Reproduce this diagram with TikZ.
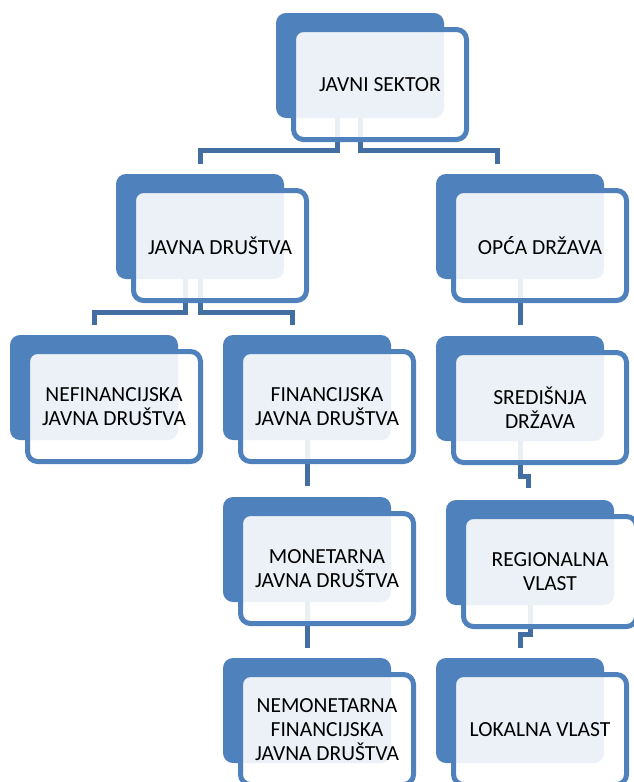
\documentclass[tikz,border=0pt]{standalone}
\usepackage{fontspec}
\setmainfont{Carlito}
\definecolor{acc}{HTML}{4F81BD}
\definecolor{connc}{HTML}{436EA1}
\begin{document}
\begin{tikzpicture}[x=1pt,y=-1pt,
  backbox/.style={draw=none, fill=acc, rounded corners=10pt, minimum width=168pt, minimum height=105pt, inner sep=0pt},
  frontbox/.style={draw=acc, line width=5pt, fill=white, fill opacity=0.89, draw opacity=1, text opacity=1,
    rounded corners=10pt, minimum width=173pt, minimum height=110pt, inner sep=0pt, align=center,
    font=\fontsize{21.5}{24}\selectfont, text=black},
  link/.style={draw=connc, line width=5pt}]
\useasboundingbox (0,0) rectangle (634,782);
% back rectangles
\node[backbox] (jsB)  at (360,65.5) {};
\node[backbox] (jdB)  at (200,226.5) {};
\node[backbox] (opB)  at (520,226.5) {};
\node[backbox] (nefB) at (94,387.5) {};
\node[backbox] (finB) at (307,387.5) {};
\node[backbox] (srB)  at (520,388.5) {};
\node[backbox] (monB) at (307,549.5) {};
\node[backbox] (regB) at (530,552.5) {};
\node[backbox] (nemB) at (307,710.5) {};
\node[backbox] (lokB) at (520,710.5) {};
% connectors
\draw[link] ([xshift=-23pt]jsB.south) -- ++(0,32) -| ([yshift=10pt]jdB.north);
\draw[link] (jsB.south) -- ++(0,32) -| ([xshift=-23pt,yshift=10pt]opB.north);
\draw[link] ([xshift=-15pt]jdB.south) -- ++(0,33) -| ([yshift=10pt]nefB.north);
\draw[link] (jdB.south) -- ++(0,33) -| ([xshift=-15pt,yshift=10pt]finB.north);
\draw[link] (opB.south) -- ([yshift=11pt]srB.north);
\draw[link] (srB.south) -- ++(0,35) -| ([xshift=-2pt,yshift=12pt]regB.north);
\draw[link] (regB.south) -- ++(0,29) -| ([yshift=10pt]lokB.north);
\draw[link] (finB.south) -- ([yshift=11pt]monB.north);
\draw[link] (monB.south) -- ([yshift=10pt]nemB.north);
% front rectangles with text
\node[frontbox] (js)  at (380,84.5)  {JAVNI SEKTOR};
\node[frontbox] (jd)  at (220,245.5) {JAVNA DRUŠTVA};
\node[frontbox] (op)  at (540,245.5) {OPĆA DRŽAVA};
\node[frontbox] (nef) at (114,406.5) {NEFINANCIJSKA\\JAVNA DRUŠTVA};
\node[frontbox] (fin) at (327,406.5) {FINANCIJSKA\\JAVNA DRUŠTVA};
\node[frontbox] (sr)  at (540,407.5) {SREDIŠNJA\\DRŽAVA};
\node[frontbox] (mon) at (327,568.5) {MONETARNA\\JAVNA DRUŠTVA};
\node[frontbox] (reg) at (550,571.5) {REGIONALNA\\VLAST};
\node[frontbox] (nem) at (327,729.5) {NEMONETARNA\\FINANCIJSKA\\JAVNA DRUŠTVA};
\node[frontbox] (lok) at (540,729.5) {LOKALNA VLAST};
\end{tikzpicture}
\end{document}
